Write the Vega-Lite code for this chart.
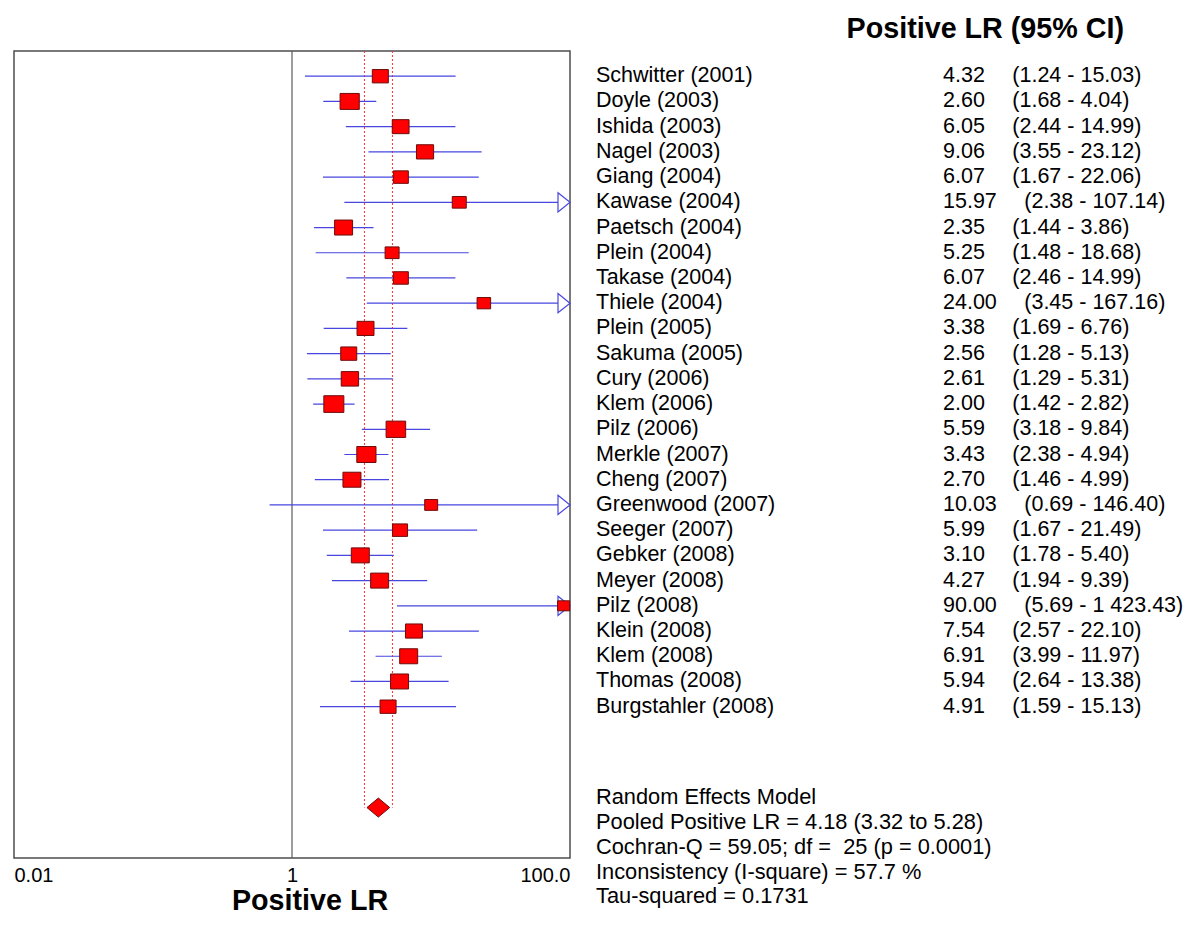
{
  "$schema": "https://vega.github.io/schema/vega-lite/v6.json",
  "padding": {"left": 13, "top": 15, "right": 5, "bottom": 5},
  "background": "white",
  "bounds": "flush",
  "spacing": 26,
  "config": {"font": "Liberation Sans", "view": {"stroke": null}},
  "datasets": {
    "studies": [
      {"row": 1, "study": "Schwitter (2001)", "lr": 4.32, "lo": 1.24, "hi": 15.03, "ci": "(1.24 - 15.03)", "w": 3.54},
      {"row": 2, "study": "Doyle (2003)", "lr": 2.60, "lo": 1.68, "hi": 4.04, "ci": "(1.68 - 4.04)", "w": 5.08},
      {"row": 3, "study": "Ishida (2003)", "lr": 6.05, "lo": 2.44, "hi": 14.99, "ci": "(2.44 - 14.99)", "w": 3.89},
      {"row": 4, "study": "Nagel (2003)", "lr": 9.06, "lo": 3.55, "hi": 23.12, "ci": "(3.55 - 23.12)", "w": 4.05},
      {"row": 5, "study": "Giang (2004)", "lr": 6.07, "lo": 1.67, "hi": 22.06, "ci": "(1.67 - 22.06)", "w": 3.10},
      {"row": 6, "study": "Kawase (2004)", "lr": 15.97, "lo": 2.38, "hi": 107.14, "ci": "(2.38 - 107.14)", "w": 2.70},
      {"row": 7, "study": "Paetsch (2004)", "lr": 2.35, "lo": 1.44, "hi": 3.86, "ci": "(1.44 - 3.86)", "w": 4.47},
      {"row": 8, "study": "Plein (2004)", "lr": 5.25, "lo": 1.48, "hi": 18.68, "ci": "(1.48 - 18.68)", "w": 2.70},
      {"row": 9, "study": "Takase (2004)", "lr": 6.07, "lo": 2.46, "hi": 14.99, "ci": "(2.46 - 14.99)", "w": 3.10},
      {"row": 10, "study": "Thiele (2004)", "lr": 24.00, "lo": 3.45, "hi": 167.16, "ci": "(3.45 - 167.16)", "w": 2.54},
      {"row": 11, "study": "Plein (2005)", "lr": 3.38, "lo": 1.69, "hi": 6.76, "ci": "(1.69 - 6.76)", "w": 3.97},
      {"row": 12, "study": "Sakuma (2005)", "lr": 2.56, "lo": 1.28, "hi": 5.13, "ci": "(1.28 - 5.13)", "w": 3.54},
      {"row": 13, "study": "Cury (2006)", "lr": 2.61, "lo": 1.29, "hi": 5.31, "ci": "(1.29 - 5.31)", "w": 4.17},
      {"row": 14, "study": "Klem (2006)", "lr": 2.00, "lo": 1.42, "hi": 2.82, "ci": "(1.42 - 2.82)", "w": 5.52},
      {"row": 15, "study": "Pilz (2006)", "lr": 5.59, "lo": 3.18, "hi": 9.84, "ci": "(3.18 - 9.84)", "w": 5.28},
      {"row": 16, "study": "Merkle (2007)", "lr": 3.43, "lo": 2.38, "hi": 4.94, "ci": "(2.38 - 4.94)", "w": 5.08},
      {"row": 17, "study": "Cheng (2007)", "lr": 2.70, "lo": 1.46, "hi": 4.99, "ci": "(1.46 - 4.99)", "w": 4.47},
      {"row": 18, "study": "Greenwood (2007)", "lr": 10.03, "lo": 0.69, "hi": 146.40, "ci": "(0.69 - 146.40)", "w": 2.32},
      {"row": 19, "study": "Seeger (2007)", "lr": 5.99, "lo": 1.67, "hi": 21.49, "ci": "(1.67 - 21.49)", "w": 3.10},
      {"row": 20, "study": "Gebker (2008)", "lr": 3.10, "lo": 1.78, "hi": 5.40, "ci": "(1.78 - 5.40)", "w": 4.47},
      {"row": 21, "study": "Meyer (2008)", "lr": 4.27, "lo": 1.94, "hi": 9.39, "ci": "(1.94 - 9.39)", "w": 4.47},
      {"row": 22, "study": "Pilz (2008)", "lr": 90.00, "lo": 5.69, "hi": 1423.43, "ci": "(5.69 - 1 423.43)", "w": 1.99},
      {"row": 23, "study": "Klein (2008)", "lr": 7.54, "lo": 2.57, "hi": 22.10, "ci": "(2.57 - 22.10)", "w": 3.97},
      {"row": 24, "study": "Klem (2008)", "lr": 6.91, "lo": 3.99, "hi": 11.97, "ci": "(3.99 - 11.97)", "w": 4.47},
      {"row": 25, "study": "Thomas (2008)", "lr": 5.94, "lo": 2.64, "hi": 13.38, "ci": "(2.64 - 13.38)", "w": 4.47},
      {"row": 26, "study": "Burgstahler (2008)", "lr": 4.91, "lo": 1.59, "hi": 15.13, "ci": "(1.59 - 15.13)", "w": 3.54}
    ],
    "pooled": [
      {"lr": 4.18, "lo": 3.32, "hi": 5.28, "row": 30, "top": 0}
    ],
    "stats": [
      {"study": "Random Effects Model", "row": 29.6},
      {"study": "Pooled Positive LR = 4.18 (3.32 to 5.28)", "row": 30.58},
      {"study": "Cochran-Q = 59.05; df =\u00a0 25 (p = 0.0001)", "row": 31.56},
      {"study": "Inconsistency (I-square) = 57.7 %", "row": 32.54},
      {"study": "Tau-squared = 0.1731", "row": 33.52}
    ]
  },
  "hconcat": [
    {
      "width": 556,
      "height": 807,
      "view": {"stroke": "#4d4d4d", "strokeWidth": 1.5},
      "layer": [
        {
          "data": {"values": [{"one": 1}]},
          "mark": {"type": "rule", "color": "#5a5a5a", "strokeWidth": 1.2},
          "encoding": {
            "x": {
              "field": "one", "type": "quantitative", "title": "Positive LR",
              "scale": {"type": "log", "domain": [0.01, 100], "clamp": true, "nice": false},
              "axis": {
                "values": [0.01, 1, 100],
                "labelExpr": "datum.value < 0.1 ? '0.01' : datum.value > 10 ? '100.0' : '1'",
                "grid": false, "ticks": false, "tickSize": 0, "domain": false,
                "labelFlush": true, "labelFont": "Liberation Sans", "labelFontSize": 20,
                "labelColor": "black", "labelBaseline": "alphabetic", "labelPadding": 23,
                "titleFont": "Liberation Sans", "titleFontSize": 28.7, "titleFontWeight": "bold",
                "titleColor": "black", "titleX": 295.5, "titleY": 51, "titleBaseline": "alphabetic"
              }
            }
          }
        },
        {
          "data": {"name": "pooled"},
          "transform": [{"fold": ["lo", "hi"], "as": ["bound", "v"]}],
          "mark": {"type": "rule", "color": "#ff3030", "strokeWidth": 1, "strokeDash": [2, 2]},
          "encoding": {
            "x": {"field": "v", "type": "quantitative", "title": "Positive LR",
                  "scale": {"type": "log", "domain": [0.01, 100], "clamp": true, "nice": false}},
            "y": {"field": "top", "type": "quantitative", "scale": {"domain": [0, 32], "reverse": true, "nice": false, "zero": false}, "axis": null},
            "y2": {"field": "row"}
          }
        },
        {
          "data": {"name": "studies"},
          "mark": {"type": "rule", "color": "#4747e0", "strokeWidth": 1.2},
          "encoding": {
            "x": {"field": "lo", "type": "quantitative", "title": "Positive LR",
                  "scale": {"type": "log", "domain": [0.01, 100], "clamp": true, "nice": false}},
            "x2": {"field": "hi"},
            "y": {"field": "row", "type": "quantitative", "scale": {"domain": [0, 32], "reverse": true, "nice": false, "zero": false}, "axis": null}
          }
        },
        {
          "data": {"name": "studies"},
          "transform": [{"filter": "datum.hi > 100"}],
          "mark": {"type": "point", "shape": "M-2,-1.6L0,0L-2,1.6Z", "filled": true, "fill": "white",
                   "stroke": "#4747e0", "strokeWidth": 1.2, "size": 144, "opacity": 1},
          "encoding": {
            "x": {"field": "hi", "type": "quantitative", "title": "Positive LR",
                  "scale": {"type": "log", "domain": [0.01, 100], "clamp": true, "nice": false}},
            "y": {"field": "row", "type": "quantitative", "scale": {"domain": [0, 32], "reverse": true, "nice": false, "zero": false}, "axis": null}
          }
        },
        {
          "data": {"name": "studies"},
          "mark": {"type": "point", "shape": "M-1.2,-1L1.2,-1L1.2,1L-1.2,1Z", "filled": true, "fill": "#ff0000",
                   "stroke": "#6e0c0c", "strokeWidth": 1, "opacity": 1},
          "encoding": {
            "x": {"field": "lr", "type": "quantitative", "title": "Positive LR",
                  "scale": {"type": "log", "domain": [0.01, 100], "clamp": true, "nice": false}},
            "y": {"field": "row", "type": "quantitative", "scale": {"domain": [0, 32], "reverse": true, "nice": false, "zero": false}, "axis": null},
            "size": {"field": "w", "type": "quantitative", "scale": {"domain": [0, 6], "range": [0, 302]}, "legend": null}
          }
        },
        {
          "data": {"name": "pooled"},
          "mark": {"type": "point", "shape": "M-1.2,0L0,-1L1.2,0L0,1Z", "filled": true, "fill": "#ff0000",
                   "stroke": "#6e0c0c", "strokeWidth": 1, "size": 361, "opacity": 1},
          "encoding": {
            "x": {"field": "lr", "type": "quantitative", "title": "Positive LR",
                  "scale": {"type": "log", "domain": [0.01, 100], "clamp": true, "nice": false}},
            "y": {"field": "row", "type": "quantitative", "scale": {"domain": [0, 32], "reverse": true, "nice": false, "zero": false}, "axis": null}
          }
        }
      ]
    },
    {
      "width": 528,
      "height": 807,
      "title": {"text": "Positive LR (95% CI)", "anchor": "end", "frame": "group", "fontSize": 28.7, "fontWeight": "bold",
                "font": "Liberation Sans", "color": "black", "baseline": "alphabetic", "offset": -16},
      "layer": [
        {
          "data": {"name": "studies"},
          "transform": [
            {"calculate": "format(datum.lr, '.2f') + '\u2003\u00a0' + datum.ci", "as": "lrci"},
            {"fold": ["study", "lrci"], "as": ["col", "txt"]}
          ],
          "mark": {"type": "text", "align": "left", "baseline": "middle", "fontSize": 21.5, "font": "Liberation Sans", "color": "black"},
          "encoding": {
            "x": {"field": "col", "type": "nominal", "scale": {"type": "point", "domain": ["study", "lrci"], "range": [0, 347], "padding": 0}, "axis": null},
            "y": {"field": "row", "type": "quantitative", "scale": {"domain": [0, 32], "reverse": true, "nice": false, "zero": false}, "axis": null},
            "text": {"field": "txt"}
          }
        },
        {
          "data": {"name": "stats"},
          "transform": [{"fold": ["study"], "as": ["col", "txt"]}],
          "mark": {"type": "text", "align": "left", "baseline": "middle", "fontSize": 21.8, "font": "Liberation Sans", "color": "black"},
          "encoding": {
            "x": {"field": "col", "type": "nominal", "scale": {"type": "point", "domain": ["study", "lrci"], "range": [0, 347], "padding": 0}, "axis": null},
            "y": {"field": "row", "type": "quantitative", "scale": {"domain": [0, 32], "reverse": true, "nice": false, "zero": false}, "axis": null},
            "text": {"field": "txt"}
          }
        }
      ]
    }
  ]
}
